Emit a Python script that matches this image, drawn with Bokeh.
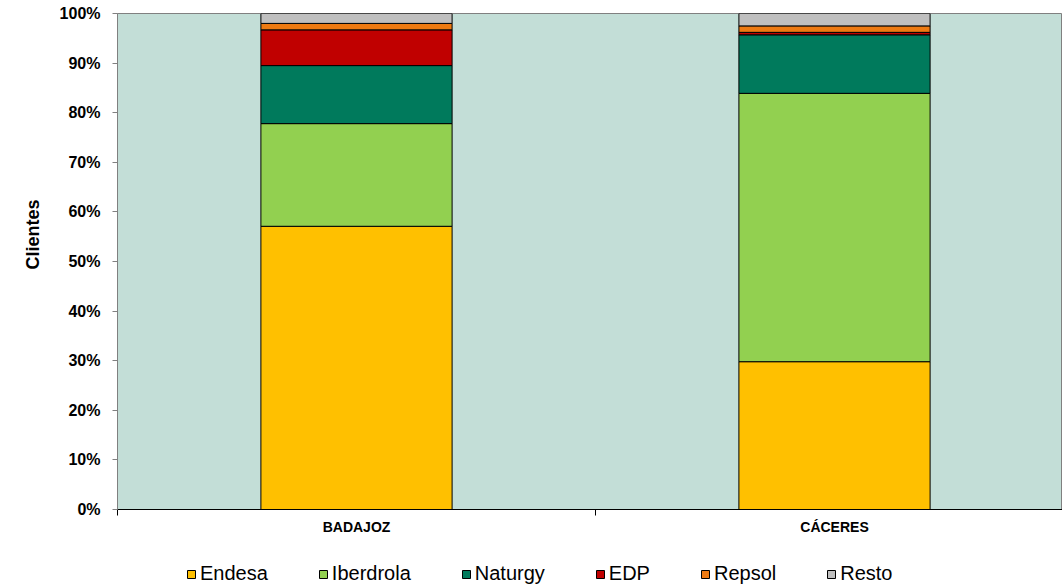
from bokeh.plotting import figure
from bokeh.layouts import column
from bokeh.models import (Range1d, FixedTicker, NumeralTickFormatter, Legend,
                          LegendItem, ColumnDataSource, Title)
from bokeh.embed import file_html
from bokeh.resources import INLINE

provincias = ["BADAJOZ", "CÁCERES"]
empresas = ["Endesa", "Iberdrola", "Naturgy", "EDP", "Repsol", "Resto"]
endesa = [0.571, 0.298]
iberdrola = [0.207, 0.541]
naturgy = [0.117, 0.118]
edp = [0.072, 0.005]
repsol = [0.013, 0.013]
resto = [0.020, 0.025]
colores = ["#FFC000", "#92D050", "#007A5C", "#C00000", "#EE7A12", "#BFBFBF"]
y_ticks = [0, 0.1, 0.2, 0.3, 0.4, 0.5, 0.6, 0.7, 0.8, 0.9, 1.0]

FONT = "Liberation Sans"

x_pos = [i + 0.5 for i in range(len(provincias))]
source = ColumnDataSource(dict(x=x_pos, Endesa=endesa, Iberdrola=iberdrola,
                               Naturgy=naturgy, EDP=edp, Repsol=repsol,
                               Resto=resto))

W = 1062
p = figure(width=W, height=548, output_backend="svg", toolbar_location=None,
           x_range=Range1d(0, 1.9770), y_range=Range1d(0, 1),
           min_border_left=117, min_border_right=0, min_border_top=13,
           min_border_bottom=39)

p.background_fill_color = "#C3DED7"
p.outline_line_color = "#808080"
p.outline_line_width = 1
p.xgrid.visible = False
p.ygrid.visible = False

rs = p.vbar_stack(empresas, x="x", width=0.4, source=source, color=colores,
                  line_color="black", line_width=1)

# X axis
p.xaxis.ticker = FixedTicker(ticks=x_pos, minor_ticks=[0, 1, 2])
p.xaxis.major_label_overrides = {x_pos[i]: provincias[i] for i in range(len(provincias))}
p.xaxis.major_tick_line_color = None
p.xaxis.major_tick_out = 0
p.xaxis.major_tick_in = 0
p.xaxis.minor_tick_out = 6
p.xaxis.minor_tick_in = 0
p.xaxis.minor_tick_line_color = "black"
p.xaxis.axis_line_color = "black"
p.xaxis.major_label_standoff = 3
p.xaxis.major_label_text_font = FONT
p.xaxis.major_label_text_font_style = "bold"
p.xaxis.major_label_text_font_size = "14px"
p.xaxis.major_label_text_color = "black"

# Y axis
p.yaxis.ticker = FixedTicker(ticks=y_ticks)
p.yaxis.formatter = NumeralTickFormatter(format="0%")
p.yaxis.axis_line_color = "#808080"
p.yaxis.major_tick_line_color = "#808080"
p.yaxis.major_tick_out = 5
p.yaxis.major_tick_in = 0
p.yaxis.minor_tick_line_color = None
p.yaxis.major_label_standoff = 12
p.yaxis.major_label_text_font = FONT
p.yaxis.major_label_text_font_style = "bold"
p.yaxis.major_label_text_font_size = "16px"
p.yaxis.major_label_text_color = "black"

ytitle = Title(text="Clientes", align="left", offset=240, standoff=28,
               text_font=FONT, text_font_style="bold", text_font_size="18px",
               text_color="black")
p.add_layout(ytitle, "left")

# Legend strip (separate figure below the chart; bars drawn off-range, only the key shows)
pl = figure(width=W, height=37, output_backend="svg", toolbar_location=None,
            x_range=Range1d(10, 11), y_range=Range1d(10, 11),
            min_border_left=117, min_border_right=0, min_border_top=0,
            min_border_bottom=0)
pl.xaxis.visible = False
pl.yaxis.visible = False
pl.xgrid.visible = False
pl.ygrid.visible = False
pl.outline_line_color = None
proxies = pl.vbar_stack(empresas, x="x", width=0.4, source=source, color=colores,
                        line_color="black", line_width=1)

legend = Legend(items=[LegendItem(label=n, renderers=[r]) for n, r in zip(empresas, proxies)],
                location=(69, 0), orientation="horizontal",
                glyph_width=10, glyph_height=10, label_standoff=4, spacing=50,
                padding=0, margin=0, border_line_color=None,
                background_fill_alpha=0, label_text_font=FONT,
                label_text_font_size="20px", label_text_color="black")
pl.add_layout(legend, "center")

layout = column(p, pl, spacing=0)
open("out.html", "w").write(file_html(layout, INLINE))
